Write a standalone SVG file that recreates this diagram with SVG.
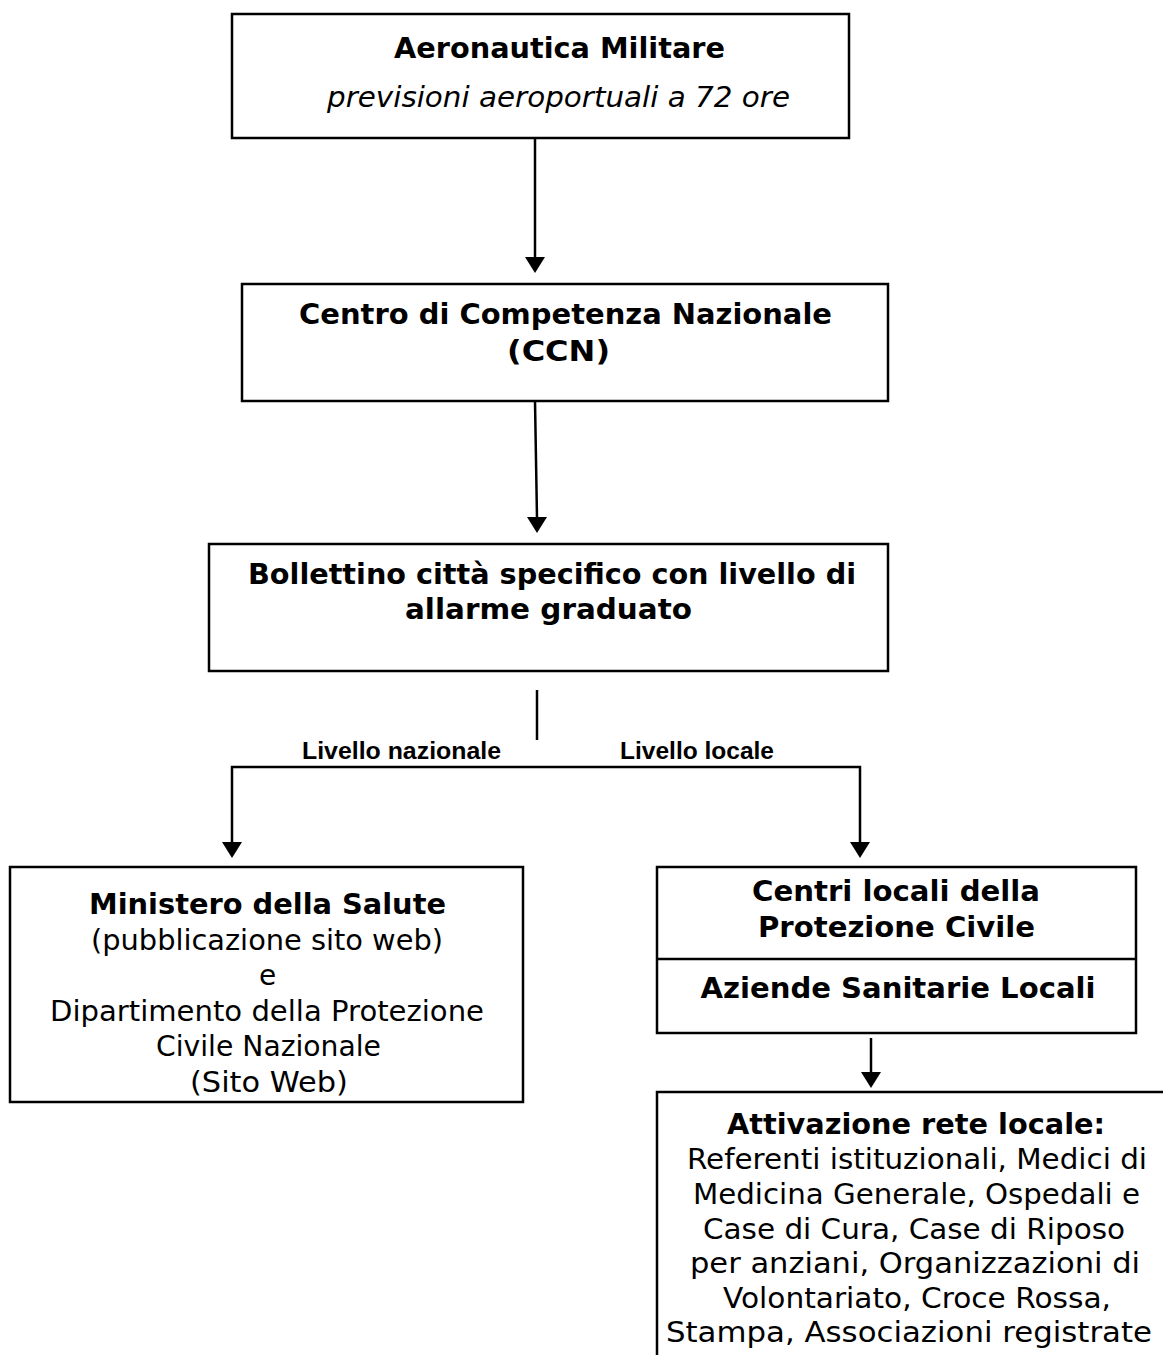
<svg xmlns="http://www.w3.org/2000/svg" width="1163" height="1355" viewBox="0 0 1163 1355">
<defs>
<style>
.box{fill:#fff;stroke:#000;stroke-width:2.5}
.t{font-family:"DejaVu Sans",Verdana,sans-serif;font-size:28px;fill:#000;text-anchor:middle}
.b{font-weight:bold}
.i{font-style:italic}
.lbl{font-family:"Liberation Sans",Arial,sans-serif;font-weight:bold;font-size:23px;fill:#000;text-anchor:middle}
.ln{fill:none;stroke:#000;stroke-width:2.5}
</style>
</defs>
<rect width="1163" height="1355" fill="#fff"/>
<g id="connectors">
<path class="ln" d="M535,138 L535,258"/>
<path d="M525,257 L545,257 L535,273 Z"/>
<path class="ln" d="M535,401 L537,518"/>
<path d="M527,517 L547,517 L537,533 Z"/>
<path class="ln" d="M537,690 L537,740"/>
<path class="ln" d="M232,845 L232,767 L860,767 L860,845"/>
<path d="M222,842 L242,842 L232,858 Z"/>
<path d="M850,842 L870,842 L860,858 Z"/>
<path class="ln" d="M871,1038 L871,1075"/>
<path d="M861,1072 L881,1072 L871,1088 Z"/>
<text class="lbl" x="401.5" y="759" textLength="199" lengthAdjust="spacingAndGlyphs">Livello nazionale</text>
<text class="lbl" x="697" y="759" textLength="154" lengthAdjust="spacingAndGlyphs">Livello locale</text>
</g>
<g id="aeronautica">
<rect class="box" x="232" y="14" width="617" height="124"/>
<text class="t b" x="559.5" y="58" textLength="331" lengthAdjust="spacingAndGlyphs">Aeronautica Militare</text>
<text class="t i" x="558.5" y="107" textLength="463" lengthAdjust="spacingAndGlyphs">previsioni aeroportuali a 72 ore</text>
</g>
<g id="ccn">
<rect class="box" x="242" y="284" width="646" height="117"/>
<text class="t b" x="565.5" y="324" textLength="533" lengthAdjust="spacingAndGlyphs">Centro di Competenza Nazionale</text>
<text class="t b" x="558.5" y="361" textLength="103" lengthAdjust="spacingAndGlyphs">(CCN)</text>
</g>
<g id="bollettino">
<rect class="box" x="209" y="544" width="679" height="127"/>
<text class="t b" x="552" y="584" textLength="608" lengthAdjust="spacingAndGlyphs">Bollettino città specifico con livello di</text>
<text class="t b" x="548.5" y="619" textLength="287" lengthAdjust="spacingAndGlyphs">allarme graduato</text>
</g>
<g id="ministero">
<rect class="box" x="10" y="867" width="513" height="235"/>
<text class="t b" x="267.5" y="914" textLength="357" lengthAdjust="spacingAndGlyphs">Ministero della Salute</text>
<text class="t" x="267" y="949.5" textLength="352" lengthAdjust="spacingAndGlyphs">(pubblicazione sito web)</text>
<text class="t" x="267.5" y="985">e</text>
<text class="t" x="267" y="1020.5" textLength="434" lengthAdjust="spacingAndGlyphs">Dipartimento della Protezione</text>
<text class="t" x="268.5" y="1056" textLength="225" lengthAdjust="spacingAndGlyphs">Civile Nazionale</text>
<text class="t" x="269" y="1091.5" textLength="158" lengthAdjust="spacingAndGlyphs">(Sito Web)</text>
</g>
<g id="centri">
<rect class="box" x="657" y="867" width="479" height="166"/>
<line class="ln" x1="657" y1="959" x2="1136" y2="959"/>
<text class="t b" x="896" y="901" textLength="288" lengthAdjust="spacingAndGlyphs">Centri locali della</text>
<text class="t b" x="896.5" y="937" textLength="277" lengthAdjust="spacingAndGlyphs">Protezione Civile</text>
<text class="t b" x="898" y="998" textLength="395" lengthAdjust="spacingAndGlyphs">Aziende Sanitarie Locali</text>
</g>
<g id="attivazione">
<rect class="box" x="657" y="1092" width="530" height="300"/>
<text class="t b" x="916" y="1134" textLength="378" lengthAdjust="spacingAndGlyphs">Attivazione rete locale:</text>
<text class="t" x="917" y="1169" textLength="460" lengthAdjust="spacingAndGlyphs">Referenti istituzionali, Medici di</text>
<text class="t" x="916.5" y="1204" textLength="447" lengthAdjust="spacingAndGlyphs">Medicina Generale, Ospedali e</text>
<text class="t" x="914" y="1238.5" textLength="422" lengthAdjust="spacingAndGlyphs">Case di Cura, Case di Riposo</text>
<text class="t" x="915" y="1273" textLength="450" lengthAdjust="spacingAndGlyphs">per anziani, Organizzazioni di</text>
<text class="t" x="917" y="1308" textLength="388" lengthAdjust="spacingAndGlyphs">Volontariato, Croce Rossa,</text>
<text class="t" x="909" y="1342" textLength="486" lengthAdjust="spacingAndGlyphs">Stampa, Associazioni registrate</text>
</g>
</svg>
